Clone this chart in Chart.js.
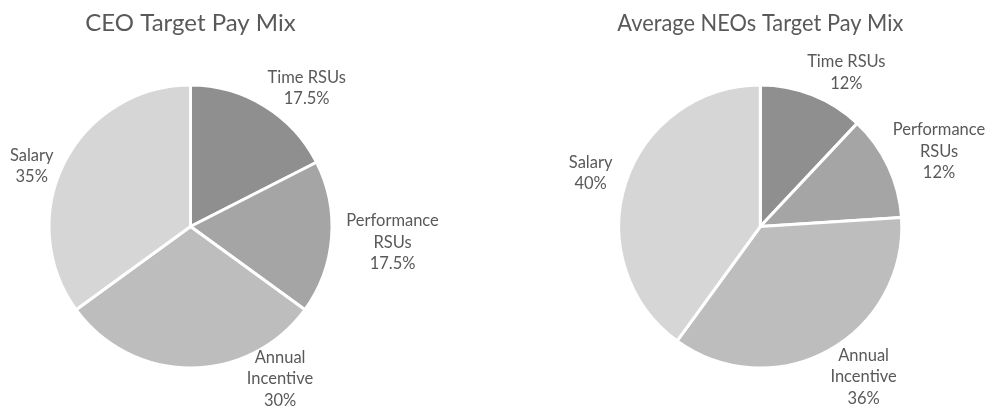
<!DOCTYPE html>
<html>
<head>
<meta charset="utf-8">
<script src="https://cdn.jsdelivr.net/npm/chart.js@4.4.1/dist/chart.umd.min.js"></script>
<style>
    html, body { margin: 0; padding: 0; background: #ffffff; }
    .wrap { position: relative; width: 987px; height: 406px; }
    .box { position: absolute; top: 0; height: 406px; }
    #leftBox { left: 0; width: 494px; }
    #rightBox { left: 494px; width: 493px; }
</style>
</head>
<body>
<div class="wrap">
    <div class="box" id="leftBox"><canvas id="ceoChart"></canvas></div>
    <div class="box" id="rightBox"><canvas id="neoChart"></canvas></div>
</div>
<script>
    // Data
    const categories = ['Time RSUs', 'Performance RSUs', 'Annual Incentive', 'Salary'];
    const labelLines = [['Time RSUs'], ['Performance', 'RSUs'], ['Annual', 'Incentive'], ['Salary']];
    const ceoValues = [17.5, 17.5, 30, 35];
    const neoValues = [12, 12, 36, 40];
    const ceoTitle = 'CEO Target Pay Mix';
    const neoTitle = 'Average NEOs Target Pay Mix';

    const sliceColors = ['#8f8f8f', '#a5a5a5', '#bdbdbd', '#d6d6d6'];
    const textColor = '#595959';
    const fontFamily = 'Lato, "Open Sans", sans-serif';

    // label centres, in units of the pie radius, from the pie centre
    const ceoLabelPos = [[0.821, -0.979], [1.428, 0.113], [0.633, 1.078], [-1.122, -0.428]];
    const neoLabelPos = [[0.608, -1.088], [1.263, -0.532], [0.730, 1.063], [-1.199, -0.377]];

    const sliceLabels = {
        id: 'sliceLabels',
        afterDatasetsDraw(chart, args, opts) {
            const ctx = chart.ctx;
            const meta = chart.getDatasetMeta(0);
            const values = chart.data.datasets[0].data;
            ctx.save();
            ctx.font = '16.5px ' + fontFamily;
            ctx.fillStyle = textColor;
            ctx.textAlign = 'center';
            ctx.textBaseline = 'middle';
            const lh = 21.5;
            meta.data.forEach((arc, i) => {
                const r = arc.outerRadius;
                const cx = arc.x + opts.pos[i][0] * r;
                const cy = arc.y + opts.pos[i][1] * r;
                const lines = labelLines[i].concat([values[i] + '%']);
                const top = cy - (lines.length - 1) * lh / 2;
                lines.forEach((t, j) => ctx.fillText(t, cx, top + j * lh));
            });
            ctx.restore();
        }
    };

    function makePie(id, title, values, pos, padLeft, padRight) {
        return new Chart(document.getElementById(id), {
            type: 'pie',
            data: {
                labels: categories,
                datasets: [{
                    data: values,
                    backgroundColor: sliceColors,
                    borderColor: '#ffffff',
                    borderWidth: 3
                }]
            },
            options: {
                responsive: true,
                maintainAspectRatio: false,
                animation: false,
                layout: {
                    padding: { top: 0, bottom: 36.5, left: padLeft, right: padRight }
                },
                plugins: {
                    legend: { display: false },
                    tooltip: { enabled: false },
                    title: {
                        display: true,
                        text: title,
                        color: textColor,
                        font: { family: fontFamily, size: 24, weight: 'normal' },
                        padding: { top: 8.6, bottom: 46.1 }
                    },
                    sliceLabels: { pos: pos }
                }
            },
            plugins: [sliceLabels]
        });
    }

    makePie('ceoChart', ceoTitle, ceoValues, ceoLabelPos, 47.5, 160.5);
    makePie('neoChart', neoTitle, neoValues, neoLabelPos, 123.3, 83.7);
</script>
</body>
</html>
